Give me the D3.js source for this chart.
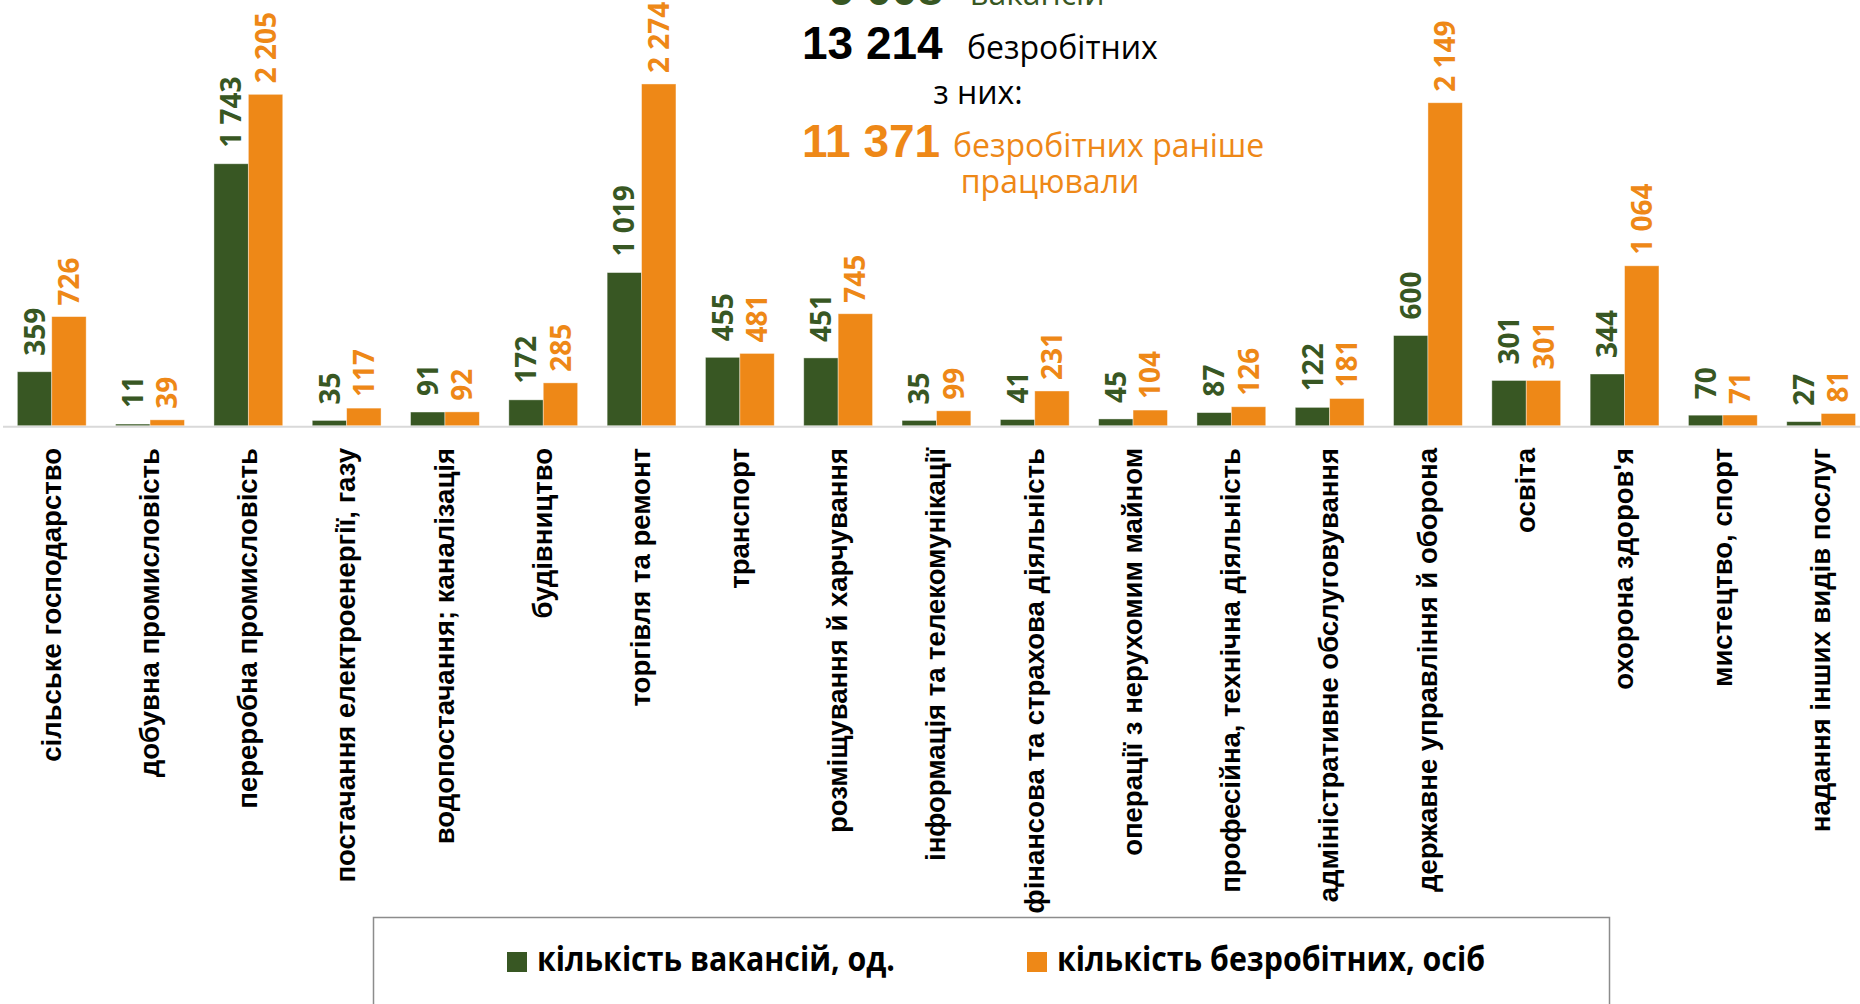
<!DOCTYPE html>
<html><head><meta charset="utf-8">
<script src="https://cdn.jsdelivr.net/npm/d3@7"></script>
<style>html,body{margin:0;padding:0;background:#fff;overflow:hidden}</style>
</head><body>
<svg id="chart" width="1860" height="1004"></svg>
<script>
const categories = [
  "сільське господарство","добувна промисловість","переробна промисловість",
  "постачання електроенергії, газу","водопостачання; каналізація","будівництво",
  "торгівля та ремонт","транспорт","розміщування й харчування",
  "інформація та телекомунікації","фінансова та страхова діяльність",
  "операції з нерухомим майном","професійна, технічна діяльність",
  "адміністративне обслуговування","державне управління й оборона","освіта",
  "охорона здоров'я","мистецтво, спорт","надання інших видів послуг"
];
const vacancies  = [359,11,1743,35,91,172,1019,455,451,35,41,45,87,122,600,301,344,70,27];
const unemployed = [726,39,2205,117,92,285,2274,481,745,99,231,104,126,181,2149,301,1064,71,81];
const seriesNames = ["кількість вакансій, од.","кількість безробітних, осіб"];
const totalVacancies = "6 008";
const totalUnemployed = "13 214";
const workedBefore = "11 371";

const GREEN = "#385723", ORANGE = "#EE8817";
const colors = [GREEN, ORANGE];
const svg = d3.select("#chart");

const x0 = d3.scaleBand().domain(categories).range([2.6, 1870.3]).paddingInner(0.3).paddingOuter(0.15);
const x1 = d3.scaleBand().domain([0,1]).range([0, x0.bandwidth()]);
const y = d3.scaleLinear().domain([0, 2500]).range([425.7, 50]);

const fmt = v => d3.format(",")(v).replace(/,/g, " ");

// axis line
svg.append("line").attr("x1", 3).attr("x2", 1860).attr("y1", 426.7).attr("y2", 426.7)
  .attr("stroke", "#d9d9d9").attr("stroke-width", 2);

const series = [vacancies, unemployed];
const labelGap = [16, 11];
series.forEach((vals, si) => {
  const g = svg.append("g");
  g.selectAll("rect").data(vals).join("rect")
    .attr("x", (d,i) => x0(categories[i]) + x1(si))
    .attr("width", x1.bandwidth())
    .attr("y", d => y(d))
    .attr("height", d => y(0) - y(d))
    .attr("fill", colors[si])
    .attr("stroke", "#ffffff").attr("stroke-opacity", 0.5).attr("stroke-width", 0.8);
  g.selectAll("text").data(vals).join("text")
    .attr("transform", (d,i) => {
      const cx = x0(categories[i]) + x1(si) + x1.bandwidth()/2;
      return `translate(${cx},${y(d) - labelGap[si]}) rotate(-90)`;
    })
    .attr("dy", "0.36em")
    .attr("text-anchor", "start")
    .attr("font-family", "'Open Sans', sans-serif")
    .attr("font-weight", 700)
    .attr("font-size", 28)
    .attr("fill", colors[si])
    .text(d => fmt(d));
});

// category labels
svg.append("g").selectAll("text").data(categories).join("text")
  .attr("transform", d => `translate(${x0(d) + x0.bandwidth()/2},448) rotate(-90)`)
  .attr("dy", "0.32em")
  .attr("text-anchor", "end")
  .attr("font-family", "'Liberation Sans', Arial, sans-serif")
  .attr("font-weight", 700)
  .attr("font-size", 27.5)
  .attr("fill", "#000")
  .text(d => d);

// top annotation
const ann = svg.append("g");
ann.append("text").attr("x", 943).attr("y", 4.5).attr("text-anchor", "end")
  .attr("font-family", "'Liberation Sans', Arial, sans-serif").attr("font-weight", 700)
  .attr("font-size", 46).attr("fill", GREEN).text(totalVacancies);
ann.append("text").attr("x", 970).attr("y", 4.5)
  .attr("font-family", "'Open Sans', sans-serif").attr("font-size", 32)
  .attr("fill", GREEN).text("вакансій");
ann.append("text").attr("x", 802).attr("y", 58.5)
  .attr("font-family", "'Liberation Sans', Arial, sans-serif").attr("font-weight", 700)
  .attr("font-size", 46).attr("fill", "#000").text(totalUnemployed);
ann.append("text").attr("x", 967).attr("y", 58.5)
  .attr("font-family", "'Open Sans', sans-serif").attr("font-size", 32)
  .attr("fill", "#000").text("безробітних");
ann.append("text").attr("x", 978).attr("y", 104).attr("text-anchor", "middle")
  .attr("font-family", "'Open Sans', sans-serif").attr("font-size", 32)
  .attr("fill", "#000").text("з них:");
ann.append("text").attr("x", 802).attr("y", 156.5)
  .attr("font-family", "'Liberation Sans', Arial, sans-serif").attr("font-weight", 700)
  .attr("font-size", 46).attr("fill", ORANGE).text(workedBefore);
ann.append("text").attr("x", 953).attr("y", 156.5)
  .attr("font-family", "'Open Sans', sans-serif").attr("font-size", 32)
  .attr("fill", ORANGE).text("безробітних раніше");
ann.append("text").attr("x", 1050).attr("y", 193).attr("text-anchor", "middle")
  .attr("font-family", "'Open Sans', sans-serif").attr("font-size", 32)
  .attr("fill", ORANGE).text("працювали");

// legend
const leg = svg.append("g");
leg.append("rect").attr("x", 373.5).attr("y", 917.5).attr("width", 1236).attr("height", 120)
  .attr("fill", "#fff").attr("stroke", "#8c8c8c").attr("stroke-width", 1.5);
const legX = [507, 1027], legW = [358, 428];
seriesNames.forEach((n, i) => {
  leg.append("rect").attr("x", legX[i]).attr("y", 952).attr("width", 20).attr("height", 20).attr("fill", colors[i]);
  leg.append("text").attr("x", legX[i] + 30).attr("y", 971)
    .attr("font-family", "'Open Sans', sans-serif").attr("font-weight", 700)
    .attr("font-size", 34).attr("fill", "#000")
    .attr("textLength", legW[i]).attr("lengthAdjust", "spacingAndGlyphs")
    .text(n);
});
</script>
</body></html>
